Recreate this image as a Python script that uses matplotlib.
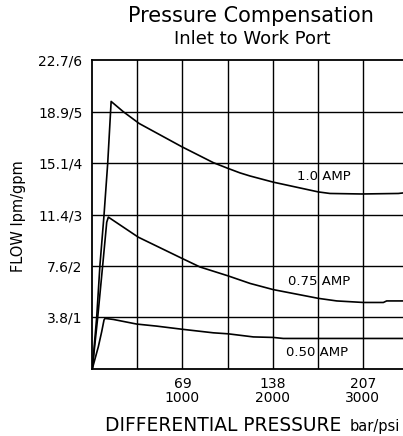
import matplotlib
matplotlib.use("Agg")
import matplotlib.pyplot as plt

plt.rcParams['font.family'] = ['DejaVu Sans']

# flow curves, x in psi, y in gpm
amp100_psi = [0, 49, 85, 130, 171, 209, 344, 521, 992, 1342, 1502, 1639, 1750,
              2008, 2508, 2637, 2989, 3395, 3447]
amp100_gpm = [0, 1.01, 2.02, 2.99, 4.0, 5.2, 5.0, 4.77, 4.32, 4.01, 3.90, 3.81, 3.75,
              3.63, 3.44, 3.41, 3.40, 3.41, 3.42]

amp075_psi = [0, 60, 120, 160, 178, 510, 992, 1195, 1502, 1751, 2008, 2508, 2712,
              3007, 3229, 3266, 3447]
amp075_gpm = [0, 1.0, 2.1, 2.85, 2.95, 2.56, 2.15, 1.98, 1.81, 1.66, 1.54, 1.37, 1.32,
              1.29, 1.29, 1.32, 1.32]

amp050_psi = [0, 67, 104, 130, 141, 233, 493, 715, 992, 1342, 1509, 1787, 2008, 2119, 3447]
amp050_gpm = [0, 0.43, 0.72, 0.95, 0.98, 0.96, 0.87, 0.83, 0.77, 0.70, 0.68, 0.62, 0.61, 0.59, 0.59]

curve_labels = ["1.0 AMP", "0.75 AMP", "0.50 AMP"]
label_psi = [2566, 2515, 2493]
label_gpm = [3.74, 1.69, 0.31]

y_ticks = [1, 2, 3, 4, 5, 6]
y_labels = ["3.8/1", "7.6/2", "11.4/3", "15.1/4", "18.9/5", "22.7/6"]
x_grid = [500, 1000, 1500, 2000, 2500, 3000]
x_ticks = [1000, 2000, 3000]
x_labels = ["69\n1000", "138\n2000", "207\n3000"]

fig = plt.figure(figsize=(4.03, 4.36), dpi=100)
ax = fig.add_axes([92.3 / 403, (436 - 368.8) / 436, (403 - 92.3) / 403, 308.5 / 436])

for x in x_grid:
    ax.axvline(x, color='black', linewidth=1.0)
for y in y_ticks[:-1]:
    ax.axhline(y, color='black', linewidth=1.0)

ax.plot(amp100_psi, amp100_gpm, color='black', linewidth=1.2)
ax.plot(amp075_psi, amp075_gpm, color='black', linewidth=1.2)
ax.plot(amp050_psi, amp050_gpm, color='black', linewidth=1.2)

for txt, x, y in zip(curve_labels, label_psi, label_gpm):
    ax.text(x, y, txt, fontsize=9.5, ha='center', va='center')

ax.set_xlim(0, 3447)
ax.set_ylim(0, 6)
ax.spines['right'].set_visible(False)
for s in ['left', 'top', 'bottom']:
    ax.spines[s].set_linewidth(1.3)

ax.set_yticks(y_ticks)
ax.set_yticklabels(y_labels, fontsize=10)
ax.set_xticks(x_ticks)
ax.set_xticklabels(x_labels, fontsize=10, linespacing=0.95)
ax.tick_params(axis='y', length=0, pad=7)
ax.tick_params(axis='x', length=0, pad=6)

fig.text(19 / 403, 1 - 216 / 436, "FLOW lpm/gpm", rotation=90, fontsize=10.5,
         ha='center', va='center')
fig.text(223 / 403, 1 - 431 / 436, "DIFFERENTIAL PRESSURE", fontsize=13.4,
         ha='center', va='baseline')
fig.text(400 / 403, 1 - 431 / 436, "bar/psi", fontsize=10.5, ha='right', va='baseline')

fig.text(251 / 403, 1 - 16 / 436, "Pressure Compensation", fontsize=15,
         ha='center', va='center')
fig.text(252 / 403, 1 - 39 / 436, "Inlet to Work Port", fontsize=13,
         ha='center', va='center')

fig.savefig("out.png", dpi=100)
